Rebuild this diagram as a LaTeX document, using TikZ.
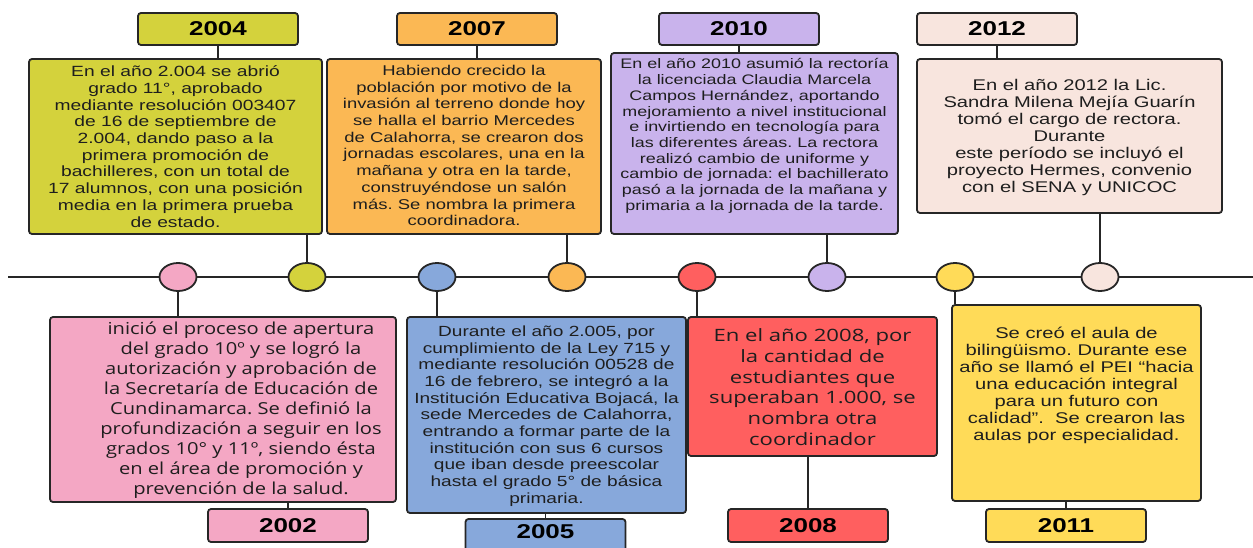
\documentclass[tikz,border=0pt]{standalone}
\usepackage{fontspec}
\usetikzlibrary{shapes.geometric}
\newfontfamily\arialx[FakeStretch=1.3]{Liberation Sans}
\newfontfamily\humx[FakeStretch=1.22]{Open Sans}
\newfontfamily\humy[FakeStretch=1.3]{Open Sans}
\definecolor{cyg}{HTML}{D4D23C}
\definecolor{cor}{HTML}{FBB854}
\definecolor{cpu}{HTML}{C9B3EC}
\definecolor{clp}{HTML}{F8E5DE}
\definecolor{cpk}{HTML}{F4A7C4}
\definecolor{cbl}{HTML}{87A8DB}
\definecolor{crd}{HTML}{FF5F5F}
\definecolor{cye}{HTML}{FFDB58}
\definecolor{edge}{HTML}{262626}
\definecolor{ink}{HTML}{1E1E1E}
\frenchspacing
\begin{document}
\begin{tikzpicture}[x=1pt,y=-1pt,
  box/.style={draw=edge,line width=1.8pt,rounded corners=3pt,inner sep=0pt},
  yearbox/.style={box,minimum width=160pt,minimum height=32pt,
    font=\arialx\bfseries\fontsize{20}{22}\selectfont,text=black},
  txt/.style={align=center,inner sep=0pt,text=ink},
  dot/.style={ellipse,draw=edge,line width=1.8pt,minimum width=37pt,minimum height=28pt,inner sep=0pt},
  link/.style={draw=edge,line width=1.8pt}]
\clip (0,0) rectangle (1253,548);
\fill[white] (0,0) rectangle (1253,548);
% timeline
\coordinate (tlstart) at (8,277);
\coordinate (tlend) at (1260,277);
\draw[link] (tlstart) -- (tlend);
% circles
\node[dot,fill=cpk] (c2002) at (178,277) {};
\node[dot,fill=cyg] (c2004) at (307,277) {};
\node[dot,fill=cbl] (c2005) at (437,277) {};
\node[dot,fill=cor] (c2007) at (567,277) {};
\node[dot,fill=crd] (c2008) at (697,277) {};
\node[dot,fill=cpu] (c2010) at (827,277) {};
\node[dot,fill=cye] (c2011) at (955,277) {};
\node[dot,fill=clp] (c2012) at (1100,277) {};
% top year boxes
\node[yearbox,fill=cyg] (y2004) at (218,29) {2004};
\node[yearbox,fill=cor] (y2007) at (477,29) {2007};
\node[yearbox,fill=cpu] (y2010) at (739,29) {2010};
\node[yearbox,fill=clp] (y2012) at (997,29) {2012};
% top description boxes
\node[box,fill=cyg,minimum width=293pt,minimum height=175pt] (d2004) at (175.5,146.5) {};
\node[box,fill=cor,minimum width=274pt,minimum height=175pt] (d2007) at (464,146.5) {};
\node[box,fill=cpu,minimum width=287pt,minimum height=181pt] (d2010) at (754.5,143.5) {};
\node[box,fill=clp,minimum width=305pt,minimum height=154pt] (d2012) at (1069.5,136) {};
% bottom description boxes
\node[box,fill=cpk,minimum width=346pt,minimum height=185pt] (d2002) at (223,409.5) {};
\node[box,fill=cbl,minimum width=279pt,minimum height=196pt] (d2005) at (546.5,415) {};
\node[box,fill=crd,minimum width=249pt,minimum height=139pt] (d2008) at (812.5,386.5) {};
\node[box,fill=cye,minimum width=249pt,minimum height=196pt] (d2011) at (1076.5,403) {};
% bottom year boxes
\node[yearbox,fill=cpk,minimum height=33pt] (y2002) at (288,525.5) {2002};
\node[yearbox,fill=cbl,minimum height=36pt] (y2005) at (545.5,537) {};
\node[yearbox,fill=crd,minimum height=33pt] (y2008) at (808,525.5) {2008};
\node[yearbox,fill=cye,minimum height=33pt] (y2011) at (1066,525.5) {2011};
\node[txt,font=\arialx\bfseries\fontsize{20}{22}\selectfont,text=black] (t2005y) at (545.5,532) {2005};
% connectors top
\draw[link] (y2004.south) -- (y2004.south |- d2004.north);
\draw[link] (y2007.south) -- (y2007.south |- d2007.north);
\draw[link] (y2010.south) -- (y2010.south |- d2010.north);
\draw[link] (y2012.south) -- (y2012.south |- d2012.north);
\draw[link] (c2004.north) -- (c2004.north |- d2004.south);
\draw[link] (c2007.north) -- (c2007.north |- d2007.south);
\draw[link] (c2010.north) -- (c2010.north |- d2010.south);
\draw[link] (c2012.north) -- (c2012.north |- d2012.south);
% connectors bottom
\draw[link] (c2002.south) -- (c2002.south |- d2002.north);
\draw[link] (c2005.south) -- (c2005.south |- d2005.north);
\draw[link] (c2008.south) -- (c2008.south |- d2008.north);
\draw[link] (c2011.south) -- (c2011.south |- d2011.north);
\draw[link] (y2002.north) -- (y2002.north |- d2002.south);
\draw[link] (y2005.north) -- (y2005.north |- d2005.south);
\draw[link] (y2008.north) -- (y2008.north |- d2008.south);
\draw[link] (y2011.north) -- (y2011.north |- d2011.south);
% texts
\node[txt,font=\arialx\fontsize{14.8}{16.7}\selectfont] (t2004) at (175.5,146.5) {En el año 2.004 se abrió\\grado 11°, aprobado\\mediante resolución 003407\\de 16 de septiembre de\\2.004, dando paso a la\\primera promoción de\\bachilleres, con un total de\\17 alumnos, con una posición\\media en la primera prueba\\de estado.};
\node[txt,font=\arialx\fontsize{14.2}{16.7}\selectfont] (t2007) at (464,145.5) {Habiendo crecido la\\población por motivo de la\\invasión al terreno donde hoy\\se halla el barrio Mercedes\\de Calahorra, se crearon dos\\jornadas escolares, una en la\\mañana y otra en la tarde,\\construyéndose un salón\\más. Se nombra la primera\\coordinadora.};
\node[txt,font=\arialx\fontsize{13.8}{15.7}\selectfont] (t2010) at (754.5,136) {En el año 2010 asumió la rectoría\\la licenciada Claudia Marcela\\Campos Hernández, aportando\\mejoramiento a nivel institucional\\e invirtiendo en tecnología para\\las diferentes áreas. La rectora\\realizó cambio de uniforme y\\cambio de jornada: el bachillerato\\pasó a la jornada de la mañana y\\primaria a la jornada de la tarde.};
\node[txt,font=\arialx\fontsize{15.5}{17}\selectfont] (t2012) at (1069.5,137.5) {En el año 2012 la Lic.\\Sandra Milena Mejía Guarín\\tomó el cargo de rectora.\\Durante\\este período se incluyó el\\proyecto Hermes, convenio\\con el SENA y UNICOC};
\node[txt,font=\humx\fontsize{16.5}{20}\selectfont] (t2002) at (241,410) {inició el proceso de apertura\\del grado 10º y se logró la\\autorización y aprobación de\\la Secretaría de Educación de\\Cundinamarca. Se definió la\\profundización a seguir en los\\grados 10° y 11º, siendo ésta\\en el área de promoción y\\prevención de la salud.};
\node[txt,font=\arialx\fontsize{14.7}{16.7}\selectfont] (t2005) at (546.5,416) {Durante el año 2.005, por\\cumplimiento de la Ley 715 y\\mediante resolución 00528 de\\16 de febrero, se integró a la\\Institución Educativa Bojacá, la\\sede Mercedes de Calahorra,\\entrando a formar parte de la\\institución con sus 6 cursos\\que iban desde preescolar\\hasta el grado 5° de básica\\primaria.};
\node[txt,font=\humy\fontsize{17}{20.7}\selectfont] (t2008) at (812.5,387) {En el año 2008, por\\la cantidad de\\estudiantes que\\superaban 1.000, se\\nombra otra\\coordinador};
\node[txt,font=\arialx\fontsize{15.5}{17}\selectfont] (t2011) at (1076.5,385) {Se creó el aula de\\bilingüismo. Durante ese\\año se llamó el PEI “hacia\\una educación integral\\para un futuro con\\calidad”.\ \ Se crearon las\\aulas por especialidad.};
\end{tikzpicture}
\end{document}
